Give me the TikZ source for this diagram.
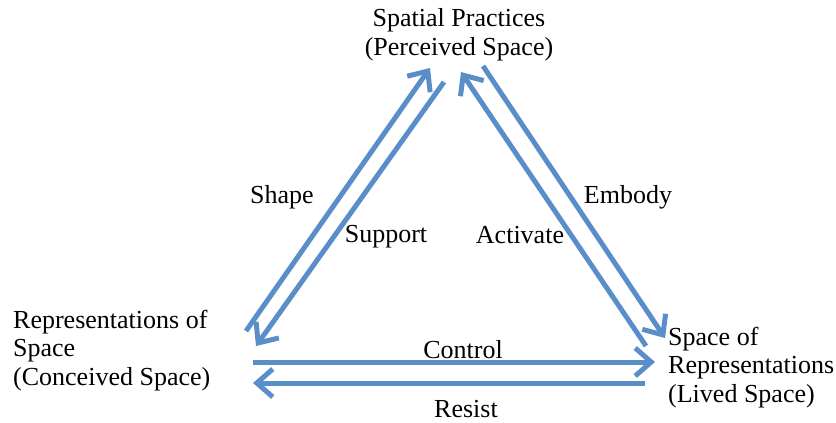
\documentclass[tikz,border=0pt]{standalone}
\usepackage{fontspec}
\setmainfont{Liberation Serif}
\usetikzlibrary{arrows.meta}
\definecolor{arrowblue}{RGB}{90,142,201}
\begin{document}
\begin{tikzpicture}[x=1pt,y=-1pt,
  txt/.style={font=\fontsize{26}{28.5}\selectfont, inner sep=0pt, text=black},
  corner/.style={txt, align=left},
  flow/.style={draw=arrowblue, line width=5pt, -{Straight Barb[length=16pt,width=28pt,line width=5pt]}}]
\useasboundingbox (0,0) rectangle (836,423);
% corner texts (anchor base = baseline of the last line)
\node[corner, anchor=base, align=center] (sp) at (459,55) {Spatial Practices\\(Perceived Space)};
\node[corner, anchor=base west] (rs) at (13,385) {Representations of\\Space\\(Conceived Space)};
\node[corner, anchor=base west] (sr) at (668,402) {Space of\\Representations\\(Lived Space)};
% arrow endpoints
\coordinate (shapeA) at (246,331); \coordinate (shapeB) at (430,68);
\coordinate (suppA) at (444,82);   \coordinate (suppB) at (256,346);
\coordinate (actA) at (646,346);   \coordinate (actB) at (461,72);
\coordinate (embA) at (483,66);    \coordinate (embB) at (665,338);
\coordinate (ctrlA) at (253,362);  \coordinate (ctrlB) at (655,362);
\coordinate (resA) at (645,383);   \coordinate (resB) at (253,383);
\draw[flow] (shapeA) -- (shapeB);
\draw[flow] (suppA) -- (suppB);
\draw[flow] (actA) -- (actB);
\draw[flow] (embA) -- (embB);
\draw[flow] (ctrlA) -- (ctrlB);
\draw[flow] (resA) -- (resB);
% labels
\node[txt, anchor=base] (lshape) at (282,203) {Shape};
\node[txt, anchor=base] (lsupp) at (386,242) {Support};
\node[txt, anchor=base] (lact) at (520,243) {Activate};
\node[txt, anchor=base] (lemb) at (628,203) {Embody};
\node[txt, anchor=base] (lctrl) at (463,358) {Control};
\node[txt, anchor=base] (lres) at (466,417) {Resist};
\end{tikzpicture}
\end{document}
